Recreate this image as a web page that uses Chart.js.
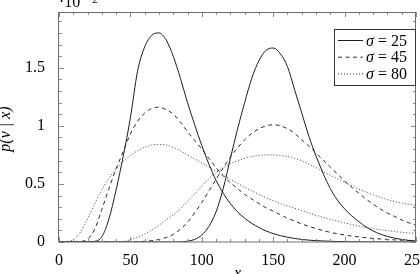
<!DOCTYPE html>
<html>
<head>
<meta charset="utf-8">
<script src="https://cdn.jsdelivr.net/npm/chart.js@4"></script>
<style>
  html, body { margin: 0; padding: 0; background: #fff; }
  #wrap { width: 420px; height: 274px; }
</style>
</head>
<body>
<div id="wrap"><canvas id="chart" width="420" height="274"></canvas></div>
<script>
// x grid shared by every curve (step 5)
const xValues = [0, 5, 10, 15, 20, 25, 30, 35, 40, 45, 50, 55, 60, 65, 70, 75, 80, 85, 90, 95,
  100, 105, 110, 115, 120, 125, 130, 135, 140, 145, 150, 155, 160, 165, 170, 175, 180, 185, 190, 195,
  200, 205, 210, 215, 220, 225, 230, 235, 240, 245, 250];

// p(v | x) in units of 10^-2
// sigma = 25
const s25Low = [0, 0, 0, 0, 0.001, 0.006, 0.045, 0.2, 0.45, 0.74, 1.07, 1.47, 1.68, 1.78, 1.8, 1.74, 1.6, 1.41, 1.2, 1.01,
  0.83, 0.67, 0.53, 0.42, 0.33, 0.26, 0.205, 0.16, 0.125, 0.095, 0.072, 0.055, 0.041, 0.03, 0.022, 0.016, 0.012, 0.009, 0.006, 0.0045,
  0.003, 0.002, 0.0015, 0.001, 0.001, 0.0007, 0.0005, 0.0004, 0.0003, 0.0002, 0.0002];
const s25High = [0, 0, 0, 0, 0, 0, 0, 0, 0, 0, 0, 0, 0, 0, 0, 0, 0, 0.001, 0.007, 0.022,
  0.06, 0.135, 0.26, 0.46, 0.72, 0.97, 1.2, 1.41, 1.56, 1.65, 1.67, 1.62, 1.51, 1.31, 1.11, 0.91, 0.74, 0.59, 0.46, 0.36,
  0.285, 0.225, 0.175, 0.13, 0.095, 0.068, 0.048, 0.033, 0.022, 0.014, 0.009];
// sigma = 45
const s45Low = [0, 0, 0, 0.004, 0.025, 0.11, 0.28, 0.46, 0.63, 0.78, 0.93, 1.04, 1.11, 1.15, 1.16, 1.14, 1.1, 1.03, 0.95, 0.875,
  0.8, 0.72, 0.64, 0.57, 0.51, 0.46, 0.41, 0.37, 0.33, 0.295, 0.265, 0.235, 0.205, 0.18, 0.155, 0.135, 0.115, 0.098, 0.083, 0.071,
  0.06, 0.051, 0.044, 0.037, 0.031, 0.026, 0.022, 0.018, 0.015, 0.012, 0.01];
const s45High = [0, 0, 0, 0, 0, 0, 0, 0, 0, 0, 0.001, 0.003, 0.006, 0.012, 0.022, 0.038, 0.065, 0.11, 0.17, 0.25,
  0.34, 0.44, 0.54, 0.64, 0.73, 0.81, 0.88, 0.935, 0.975, 1.0, 1.01, 1.0, 0.975, 0.935, 0.88, 0.825, 0.765, 0.705, 0.645, 0.585,
  0.525, 0.47, 0.42, 0.37, 0.325, 0.285, 0.25, 0.22, 0.19, 0.165, 0.145];
// sigma = 80
const s80Low = [0, 0.003, 0.02, 0.085, 0.2, 0.33, 0.45, 0.55, 0.63, 0.695, 0.745, 0.785, 0.815, 0.835, 0.84, 0.835, 0.815, 0.785, 0.75, 0.715,
  0.68, 0.645, 0.61, 0.575, 0.54, 0.505, 0.47, 0.44, 0.41, 0.38, 0.355, 0.33, 0.31, 0.29, 0.27, 0.25, 0.23, 0.212, 0.195, 0.18,
  0.165, 0.15, 0.137, 0.125, 0.115, 0.106, 0.098, 0.09, 0.084, 0.078, 0.073];
const s80High = [0, 0, 0, 0, 0, 0, 0, 0, 0.001, 0.004, 0.02, 0.04, 0.07, 0.105, 0.145, 0.19, 0.232, 0.285, 0.35, 0.415,
  0.48, 0.545, 0.6, 0.64, 0.675, 0.7, 0.72, 0.735, 0.745, 0.75, 0.75, 0.745, 0.735, 0.72, 0.7, 0.67, 0.64, 0.605, 0.575, 0.545,
  0.515, 0.485, 0.455, 0.43, 0.405, 0.385, 0.365, 0.35, 0.335, 0.325, 0.315];

const sigmaLabels = ["25", "45", "80"];
const xTicks = [0, 50, 100, 150, 200, 250];
const yTicks = [0, 0.5, 1, 1.5];

const serif = "'Liberation Serif', 'DejaVu Serif', serif";
const fontSize = 16;
const styles = [
  { color: "#1c1c1c", dash: [] },
  { color: "#2a2a2a", dash: [4, 3.5] },
  { color: "#3a3a3a", dash: [1, 2] }
];

function toPoints(ys) {
  return ys.map((y, i) => ({ x: xValues[i], y: y }));
}

const series = [[s25Low, s25High], [s45Low, s45High], [s80Low, s80High]];
const datasets = [];
series.forEach((pair, k) => {
  pair.forEach((ys, j) => {
    datasets.push({
      label: "σ = " + sigmaLabels[k],
      data: toPoints(ys),
      borderColor: styles[k].color,
      borderDash: styles[k].dash,
      borderWidth: 1,
      pointRadius: 0,
      fill: false,
      cubicInterpolationMode: "monotone",
      showInLegend: j === 0
    });
  });
});

// frame, inward ticks, legend box and the axis texts
const decor = {
  id: "decor",
  afterDraw(chart) {
    const ctx = chart.ctx;
    const a = chart.chartArea;
    const xs = chart.scales.x, ys = chart.scales.y;
    ctx.save();

    // ticks (major every 50 / 0.5, minor every 10 / 0.1)
    ctx.strokeStyle = "#8a8a8a";
    ctx.lineWidth = 1;
    ctx.beginPath();
    for (let v = 0; v <= 250; v += 10) {
      const px = Math.round(xs.getPixelForValue(v)) + 0.5;
      const len = v % 50 === 0 ? 5 : 3;
      ctx.moveTo(px, a.bottom); ctx.lineTo(px, a.bottom - len);
      ctx.moveTo(px, a.top); ctx.lineTo(px, a.top + len);
    }
    for (let i = 0; i <= 19; i++) {
      const py = Math.round(ys.getPixelForValue(i / 10)) + 0.5;
      const len = i % 5 === 0 ? 5 : 3;
      ctx.moveTo(a.left, py); ctx.lineTo(a.left + len, py);
      ctx.moveTo(a.right, py); ctx.lineTo(a.right - len, py);
    }
    ctx.stroke();

    // frame
    ctx.strokeStyle = "#6e6e6e";
    ctx.strokeRect(a.left - 0.5, a.top + 0.5, a.right - a.left, a.bottom - a.top - 0.5);

    // legend
    const bx = 334.5, by = 29.5, bw = 81, bh = 56;
    ctx.fillStyle = "#fff";
    ctx.fillRect(bx, by, bw, bh);
    ctx.strokeStyle = "#333";
    ctx.strokeRect(bx, by, bw, bh);
    const legendSets = chart.data.datasets.filter(d => d.showInLegend);
    legendSets.forEach((d, i) => {
      const ly = 40.5 + i * 16.7;
      ctx.strokeStyle = d.borderColor;
      ctx.setLineDash(d.borderDash);
      ctx.beginPath();
      ctx.moveTo(338, ly); ctx.lineTo(363, ly);
      ctx.stroke();
      ctx.setLineDash([]);
      ctx.fillStyle = "#000";
      ctx.textBaseline = "alphabetic";
      ctx.textAlign = "left";
      ctx.font = "italic " + fontSize + "px " + serif;
      ctx.fillText("σ", 366, ly + 5);
      const w = ctx.measureText("σ").width;
      ctx.font = fontSize + "px " + serif;
      ctx.fillText(" = " + sigmaLabels[i], 366 + w, ly + 5);
    });

    // exponent label above the y axis
    ctx.fillStyle = "#000";
    ctx.font = fontSize + "px " + serif;
    ctx.fillText("·10", 59, 7);
    ctx.font = "11px " + serif;
    ctx.fillText("−2", 86, 3);

    // axis titles
    ctx.font = "italic " + fontSize + "px " + serif;
    ctx.textAlign = "center";
    ctx.fillText("x", (a.left + a.right) / 2, 278);
    ctx.translate(10, 129);
    ctx.rotate(-Math.PI / 2);
    ctx.fillText("p(v | x)", 0, 0);
    ctx.restore();
  }
};

new Chart(document.getElementById("chart").getContext("2d"), {
  type: "line",
  data: { datasets: datasets },
  options: {
    responsive: false,
    animation: false,
    layout: { padding: { top: 12, right: 4, left: 0, bottom: 0 } },
    scales: {
      x: {
        type: "linear",
        min: 0,
        max: 250,
        grid: { display: false },
        border: { display: false },
        afterBuildTicks: s => { s.ticks = xTicks.map(v => ({ value: v })); },
        ticks: { font: { family: serif, size: fontSize }, color: "#000", padding: 1, maxRotation: 0 },
        afterFit: s => { s.height = 32; s.paddingLeft = 0; s.paddingRight = 0; }
      },
      y: {
        type: "linear",
        min: 0,
        max: 1.98,
        grid: { display: false },
        border: { display: false },
        afterBuildTicks: s => { s.ticks = yTicks.map(v => ({ value: v })); },
        ticks: {
          font: { family: serif, size: fontSize },
          color: "#000",
          padding: 6,
          callback: v => String(v)
        },
        afterFit: s => { s.width = 59; s.paddingTop = 0; s.paddingBottom = 0; }
      }
    },
    plugins: {
      legend: { display: false },
      tooltip: { enabled: false }
    }
  },
  plugins: [decor]
});
</script>
</body>
</html>
